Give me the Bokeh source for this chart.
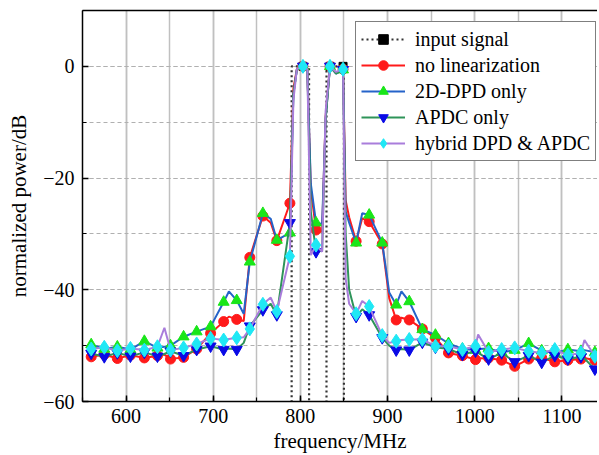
from bokeh.plotting import figure
from bokeh.models import Range1d, SingleIntervalTicker, FixedTicker, LinearAxis, Legend, LegendItem
from bokeh.embed import file_html
from bokeh.resources import INLINE

# ---------------- data ----------------
freq_mhz = [560, 575, 590, 605, 621, 636, 644, 651, 666, 681, 697, 712, 718, 727, 735, 742, 757, 766,
            773, 788, 792, 796, 803, 808, 812, 818, 825, 829, 834, 841, 849, 852, 856, 864, 871, 879,
            894, 902, 910, 916, 925, 940, 955, 970, 986, 1001, 1004, 1016, 1031, 1046, 1062, 1077,
            1092, 1107, 1122, 1126, 1138]
# frequencies that carry only a line vertex, no marker
line_only_mhz = [644, 718, 735, 766, 792, 796, 808, 812, 825, 829, 841, 852, 856, 871, 902, 916, 1004, 1126]

no_linearization = [-52.0, -51.6, -52.3, -51.7, -52.2, -51.8, -51.6, -52.4, -52.1, -50.6, -47.8, -45.7, -44.8,
                    -45.3, -45.6, -34.2, -26.8, -28.0, -31.2, -24.5, -4.0, -0.5, 0.0, -0.6, -22.0, -29.3,
                    -29.6, -9.0, 0.0, -1.2, -0.5, -24.0, -27.0, -31.3, -27.2, -27.8, -31.8, -41.5, -45.4,
                    -45.0, -45.4, -47.0, -48.6, -51.3, -51.8, -52.5, -52.3, -52.2, -52.6, -53.7, -52.4,
                    -52.2, -52.9, -52.6, -52.4, -52.2, -52.6]
dpd_only = [-49.8, -50.6, -50.2, -50.7, -49.2, -50.4, -50.2, -50.0, -48.4, -47.5, -46.6, -42.2, -40.3,
            -41.9, -44.3, -35.0, -26.3, -27.3, -31.1, -29.8, -5.0, -0.6, 0.0, -0.7, -21.0, -28.0,
            -28.2, -9.5, 0.0, -1.3, -0.6, -26.0, -28.0, -31.6, -26.3, -26.6, -31.6, -40.5, -42.7,
            -40.3, -42.1, -47.1, -48.1, -49.6, -50.6, -50.8, -50.6, -50.5, -51.2, -50.8, -49.6,
            -50.9, -51.3, -50.7, -51.0, -50.8, -51.2]
apdc_only = [-51.4, -52.0, -51.3, -51.9, -51.2, -51.9, -51.5, -51.0, -51.8, -50.7, -50.1, -50.7, -50.5,
             -50.7, -49.5, -46.5, -43.6, -42.5, -44.5, -28.0, -5.0, -0.6, 0.0, -0.7, -26.0, -33.2,
             -33.0, -9.5, 0.0, -1.3, -0.6, -30.0, -40.0, -44.8, -43.5, -44.5, -48.6, -50.0, -50.8,
             -50.6, -50.8, -49.4, -50.3, -50.6, -51.6, -51.0, -51.3, -52.4, -51.3, -52.9, -51.8,
             -53.0, -51.8, -52.4, -52.0, -52.3, -54.2]
hybrid = [-50.6, -50.3, -50.9, -50.5, -50.8, -50.2, -46.8, -50.8, -50.4, -49.7, -48.7, -49.0, -48.8,
          -48.6, -48.5, -47.0, -42.6, -41.4, -43.9, -34.0, -6.0, -0.5, 0.0, -0.5, -33.8, -32.0,
          -33.2, -8.0, 0.0, -1.0, -0.5, -38.0, -42.5, -44.3, -42.0, -43.0, -48.2, -49.5, -49.2,
          -49.0, -48.9, -48.9, -50.1, -50.1, -50.7, -50.1, -48.0, -51.2, -50.7, -50.4, -51.0,
          -51.3, -50.7, -51.7, -51.3, -49.0, -51.9]

input_freq = [775, 790, 790, 810, 810, 830, 830, 850, 850, 865]
input_power = [-90, -90, 0, 0, -90, -90, 0, 0, -90, -90]
input_mark_freq = [803, 834, 849]
input_mark_power = [0, 0, 0]

y_tick_labels = {0: "0", -20: "\u221220", -40: "\u221240", -60: "\u221260"}

FONT = "Liberation Serif"

# ---------------- figure ----------------
p = figure(frame_width=515, frame_height=391,
           x_range=Range1d(550, 1141), y_range=Range1d(-60, 10),
           output_backend="svg", toolbar_location=None,
           min_border_left=82, min_border_right=0, min_border_top=10, min_border_bottom=40)
p.outline_line_color = None
p.background_fill_color = "white"

xticker = SingleIntervalTicker(interval=100, num_minor_ticks=2)
yticker = SingleIntervalTicker(interval=20, num_minor_ticks=2)
xax = p.below[0]
yax = p.left[0]
xax.ticker = xticker
yax.ticker = yticker
yax.major_label_overrides = y_tick_labels

for ax in (xax, yax):
    ax.axis_line_width = 1.5
    ax.axis_line_color = "black"
    ax.major_tick_in = 6
    ax.major_tick_out = 0
    ax.minor_tick_in = 4
    ax.minor_tick_out = 0
    ax.major_tick_line_width = 1.5
    ax.minor_tick_line_width = 1.2
    ax.major_label_text_font = FONT
    ax.major_label_text_font_size = "20px"
    ax.major_label_text_color = "black"
    ax.axis_label_text_font = FONT
    ax.axis_label_text_font_size = "21px"
    ax.axis_label_text_font_style = "normal"
    ax.axis_label_text_color = "black"

xax.axis_label = "frequency/MHz"
yax.axis_label = "normalized power/dB"
xax.major_label_standoff = 7
xax.axis_label_standoff = 3
yax.major_label_standoff = 8
yax.axis_label_standoff = 9

top_axis = LinearAxis(ticker=FixedTicker(ticks=[]), axis_line_width=1.5, axis_line_color="black",
                      major_tick_line_color=None, minor_tick_line_color=None,
                      major_label_text_font_size="0px", major_label_standoff=0)
p.add_layout(top_axis, "above")

xgrid = p.xgrid[0]
ygrid = p.ygrid[0]
xgrid.ticker = xticker
ygrid.ticker = yticker
xgrid.grid_line_color = "#c0c0c0"
xgrid.grid_line_width = 1.5
xgrid.minor_grid_line_color = "#c0c0c0"
xgrid.minor_grid_line_width = 1.5
ygrid.grid_line_color = "#b0b0b0"
ygrid.grid_line_dash = "4 3"
ygrid.grid_line_width = 1.2
ygrid.minor_grid_line_color = "#b0b0b0"
ygrid.minor_grid_line_dash = "4 3"
ygrid.minor_grid_line_width = 1.2

mk_freq = [f for f in freq_mhz if f not in line_only_mhz]

def marks(vals):
    return [v for f, v in zip(freq_mhz, vals) if f not in line_only_mhz]

# input signal
r_in_l = p.line(input_freq, input_power, line_color="#333333", line_width=2.2, line_dash="2 3")
r_in_m = p.scatter(input_mark_freq, input_mark_power, marker="square", size=8,
                   fill_color="black", line_color="black")

# no linearization
r1_l = p.line(freq_mhz, no_linearization, line_color="#ff1a1a", line_width=2)
r1_m = p.scatter(mk_freq, marks(no_linearization), marker="circle", size=10,
                 fill_color="#ff1a1a", line_color="#ff1a1a")

# 2D-DPD only
r2_l = p.line(freq_mhz, dpd_only, line_color="#2563c9", line_width=2)
r2_m = p.scatter(mk_freq, marks(dpd_only), marker="triangle", size=11,
                 fill_color="#19e619", line_color="#19e619")

# APDC only
r3_l = p.line(freq_mhz, apdc_only, line_color="#2e9459", line_width=2)
r3_m = p.scatter(mk_freq, marks(apdc_only), marker="inverted_triangle", size=11,
                 fill_color="#0a0ae6", line_color="#0a0ae6")

# hybrid
r4_l = p.line(freq_mhz, hybrid, line_color="#a97ddb", line_width=2)
r4_m = p.scatter(mk_freq, marks(hybrid), marker="diamond", size=14,
                 fill_color="#1fe8f5", line_color="#1fe8f5")

legend = Legend(items=[
    LegendItem(label="input signal", renderers=[r_in_l, r_in_m]),
    LegendItem(label="no linearization", renderers=[r1_l, r1_m]),
    LegendItem(label="2D-DPD only", renderers=[r2_l, r2_m]),
    LegendItem(label="APDC only", renderers=[r3_l, r3_m]),
    LegendItem(label="hybrid DPD & APDC", renderers=[r4_l, r4_m]),
], location=(273, 240))
legend.label_text_font = FONT
legend.label_text_font_size = "20px"
legend.label_text_color = "black"
legend.border_line_color = "black"
legend.border_line_width = 1.5
legend.background_fill_color = "white"
legend.background_fill_alpha = 1.0
legend.glyph_width = 44
legend.glyph_height = 24
legend.label_height = 20
legend.spacing = 2
legend.padding = 5
legend.label_standoff = 10
legend.margin = 0
p.add_layout(legend, "center")

open("out.html", "w").write(file_html(p, INLINE))
